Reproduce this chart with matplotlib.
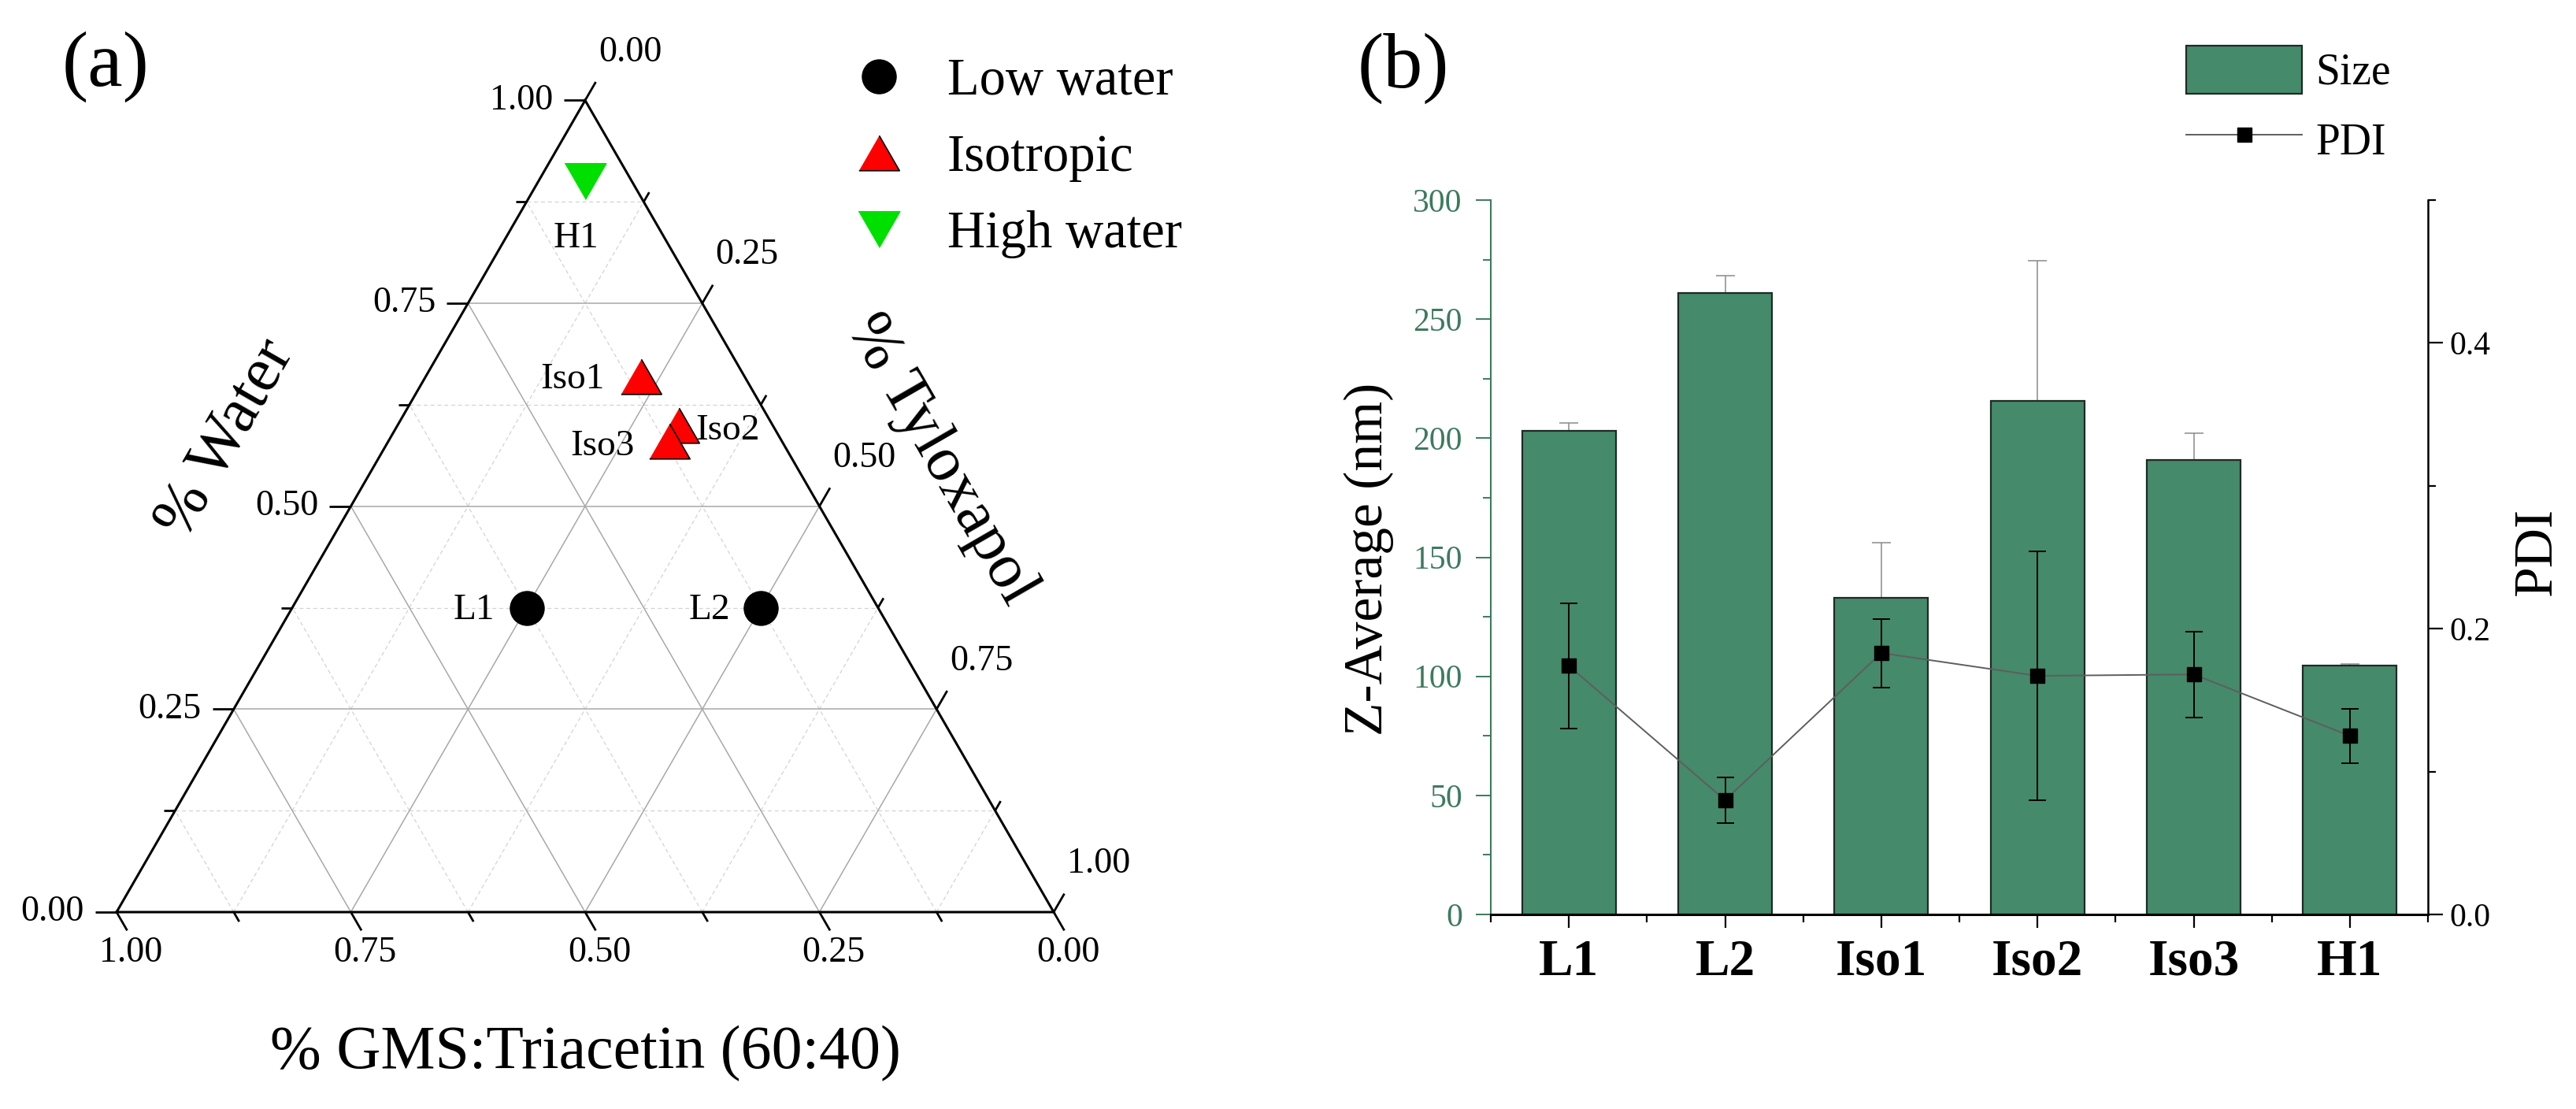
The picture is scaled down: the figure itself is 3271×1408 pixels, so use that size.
"""Figura doble: (a) diagrama ternario de formulaciones, (b) tamaño y PDI."""
import numpy as np
import matplotlib
matplotlib.use("Agg")
import matplotlib.pyplot as plt
from matplotlib.lines import Line2D
from matplotlib.patches import Patch

plt.rcParams["font.family"] = ["Liberation Serif", "DejaVu Serif"]

# --- datos (a): fracciones de cada componente ---
point_names = ["L1", "L2", "Iso1", "Iso2", "Iso3", "H1"]
water = [0.375, 0.375, 0.66, 0.60, 0.58, 0.90]
tyloxapol = [0.25, 0.50, 0.23, 0.30, 0.30, 0.05]
gms_triacetin = [0.375, 0.125, 0.11, 0.10, 0.12, 0.05]
groups = ["Low water", "Low water", "Isotropic", "Isotropic", "Isotropic", "High water"]
tern_ticks = [0.0, 0.25, 0.5, 0.75, 1.0]
tern_minor = [0.125, 0.375, 0.625, 0.875]

# --- datos (b) ---
formulations = ["L1", "L2", "Iso1", "Iso2", "Iso3", "H1"]
size_nm = [203, 261, 133, 215.5, 191, 104.5]
size_err = [3.3, 7.4, 23, 59, 11, 0.6]
pdi = [0.174, 0.080, 0.183, 0.167, 0.168, 0.125]
pdi_err = [0.044, 0.016, 0.024, 0.087, 0.030, 0.019]

GREEN_BAR = "#458a6b"
GREEN_AX = "#3d7a5f"
SQ3 = np.sqrt(3) / 2
S = 1190.0  # px por unidad del triángulo

# marcadores triangulares equiláteros
TRI_UP = [(-1, -SQ3), (1, -SQ3), (0, SQ3)]
TRI_DOWN = [(-1, SQ3), (1, SQ3), (0, -SQ3)]
STYLE = {
    "Low water": dict(marker="o", ms=31, mfc="black", mec="black", mew=1),
    "Isotropic": dict(marker=TRI_UP, ms=37, mfc="#ff0000", mec="black", mew=1.2),
    "High water": dict(marker=TRI_DOWN, ms=38, mfc="#00e000", mec="#00e000", mew=1),
}
LABEL_OFFSETS = {
    "L1": (-67, -3), "L2": (-65, -3), "Iso1": (-87, -4),
    "Iso2": (62, -7), "Iso3": (-85, -6), "H1": (-11, -72),
}


def tern_xy(w, t):
    """(agua, tyloxapol) -> coordenadas cartesianas del triángulo."""
    return np.asarray(t) + np.asarray(w) / 2, np.asarray(w) * SQ3


fig = plt.figure(figsize=(32.71, 14.08), dpi=100)

# ---------------- (a) ternario ----------------
ax = fig.add_axes([0, 0, 1600 / 3271, 1])
ax.set_xlim(-148 / S, 1452 / S)
ax.set_ylim(-250 / S, 1158 / S)
ax.axis("off")

for vals, style in ((tern_minor, dict(color="#d3d3d3", lw=0.9, ls=(0, (4, 3)))),
                    (tern_ticks[1:-1], dict(color="#a8a8a8", lw=1.1, ls="-"))):
    for v in vals:
        # agua constante
        x, y = tern_xy([v, v], [0, 1 - v])
        ax.plot(x, y, zorder=1, **style)
        # tyloxapol constante
        x, y = tern_xy([0, 1 - v], [v, v])
        ax.plot(x, y, zorder=1, **style)
        # GMS constante
        x, y = tern_xy([0, 1 - v], [1 - v, 0])
        ax.plot(x, y, zorder=1, **style)

x, y = tern_xy([0, 0, 1, 0], [0, 1, 0, 0])
ax.plot(x, y, color="black", lw=2.2, zorder=3, solid_joinstyle="miter")

axes_def = [
    # (función punto, dirección tick, offset etiqueta px, ha)
    (lambda v: tern_xy(v, 0), (-1, 0), (-41, 0), "right"),
    (lambda v: tern_xy(0, 1 - v), (0.5, -SQ3), (18, -52), "center"),
    (lambda v: tern_xy(1 - v, v), (0.5, SQ3), (57, 61), "center"),
]
for point, (dx, dy), (ox, oy), ha in axes_def:
    for v, ln in [(t, 27) for t in tern_ticks] + [(t, 14) for t in tern_minor]:
        px, py = point(v)
        ax.plot([px, px + dx * ln / S], [py, py + dy * ln / S],
                color="black", lw=2.0, zorder=3, solid_capstyle="butt")
    for v in tern_ticks:
        px, py = point(v)
        ax.text(px + ox / S, py + oy / S, f"{v:.2f}", ha=ha, va="center",
                fontsize=33)

for name, w, t, g in zip(point_names, water, tyloxapol, groups):
    px, py = tern_xy(w, t)
    ax.plot([px], [py], ls="none", zorder=5, **STYLE[g])
    ax.annotate(name, (px, py), xytext=LABEL_OFFSETS[name],
                textcoords="offset pixels", ha="center", va="center",
                fontsize=34)

handles = [Line2D([], [], ls="none", label=k, **STYLE[k]) for k in STYLE]
fig.legend(handles=handles, loc="upper left",
           bbox_to_anchor=(1083 / 3271, 1 - 73 / 1408), frameon=False,
           fontsize=48, borderpad=0, borderaxespad=0, handlelength=1.0,
           handletextpad=0.8, labelspacing=0.54)

fig.text(743 / 3271, 1 - 1338 / 1408, "% GMS:Triacetin (60:40)",
         ha="center", va="center", fontsize=56)
fig.text(287 / 3271, 1 - 557 / 1408, "% Water", ha="center", va="center",
         fontsize=58, rotation=60)
fig.text(1194 / 3271, 1 - 584 / 1408, "% Tyloxapol", ha="center",
         va="center", fontsize=58, rotation=-60)
fig.text(134 / 3271, 1 - 85 / 1408, "(a)", ha="center", va="center",
         fontsize=72)
fig.text(1782 / 3271, 1 - 87 / 1408, "(b)", ha="center", va="center",
         fontsize=72)

# ---------------- (b) tamaño y PDI ----------------
ax2 = fig.add_axes([1893 / 3271, 247 / 1408, 1190 / 3271, 907 / 1408])
xpos = np.arange(len(formulations))
ax2.errorbar(xpos, size_nm, yerr=size_err, fmt="none", ecolor="#8a8a8a",
             elinewidth=1.1, capsize=8.5, capthick=1.1, zorder=1)
ax2.bar(xpos, size_nm, width=0.6, color=GREEN_BAR, edgecolor="#1f2a24",
        linewidth=1.6, zorder=2)
ax2.set_xlim(-0.5, 5.5)
ax2.set_ylim(0, 300)
ax2.set_yticks(np.arange(0, 301, 50))
ax2.set_yticks(np.arange(25, 300, 50), minor=True)
ax2.set_xticks(xpos)
ax2.set_xticklabels(formulations, fontsize=47, fontweight="bold")
ax2.set_xticks(np.arange(-0.5, 6, 1), minor=True)
ax2.tick_params(axis="y", which="both", colors=GREEN_AX, direction="out",
                labelsize=30, pad=12)
ax2.tick_params(axis="y", which="major", length=14, width=1.4)
ax2.tick_params(axis="y", which="minor", length=7, width=1.4)
ax2.tick_params(axis="x", which="major", length=12, width=1.6, pad=10)
ax2.tick_params(axis="x", which="minor", length=7, width=1.6)
ax2.spines["left"].set_color(GREEN_AX)
ax2.spines["left"].set_linewidth(1.5)
ax2.spines["bottom"].set_linewidth(2.2)
ax2.spines["top"].set_visible(False)
ax2.spines["right"].set_visible(False)
ax2.set_ylabel("Z-Average (nm)", fontsize=50)
ax2.yaxis.label.set_va("center")
ax2.yaxis.set_label_coords((1738 - 1893) / 1190, (1161 - 710) / 907)

ax3 = ax2.twinx()
ax3.plot(xpos, pdi, color="#5e5e5e", lw=1.4, zorder=3)
ax3.errorbar(xpos, pdi, yerr=pdi_err, fmt="s", color="black", ms=13,
             ecolor="black", elinewidth=1.4, capsize=8, capthick=1.4, zorder=4)
ax3.set_ylim(0, 0.5)
ax3.set_yticks([0.0, 0.2, 0.4])
ax3.set_yticks([0.1, 0.3, 0.5], minor=True)
ax3.yaxis.set_major_formatter(matplotlib.ticker.FormatStrFormatter("%.1f"))
ax3.tick_params(axis="y", which="both", direction="out", labelsize=30,
                pad=6, width=1.6)
ax3.tick_params(axis="y", which="major", length=14)
ax3.tick_params(axis="y", which="minor", length=7)
for side in ("top", "left", "bottom"):
    ax3.spines[side].set_visible(False)
ax3.spines["right"].set_linewidth(1.8)
ax3.set_ylabel("PDI", fontsize=50)
ax3.yaxis.label.set_va("center")
ax3.yaxis.set_label_coords((3222 - 1893) / 1190, (1161 - 700) / 907)

leg_handles = [
    Patch(facecolor=GREEN_BAR, edgecolor="#1f2a24", linewidth=1.6, label="Size"),
    Line2D([], [], color="#5e5e5e", lw=1.4, marker="s", ms=13, mfc="black",
           mec="black", label="PDI"),
]
fig.legend(handles=leg_handles, loc="upper left",
           bbox_to_anchor=(2776 / 3271, 1 - 58 / 1408), frameon=False,
           fontsize=40, borderpad=0, borderaxespad=0, handlelength=2.65,
           handleheight=1.3, handletextpad=0.3, labelspacing=0.5)

fig.savefig("out.png", dpi=100)
